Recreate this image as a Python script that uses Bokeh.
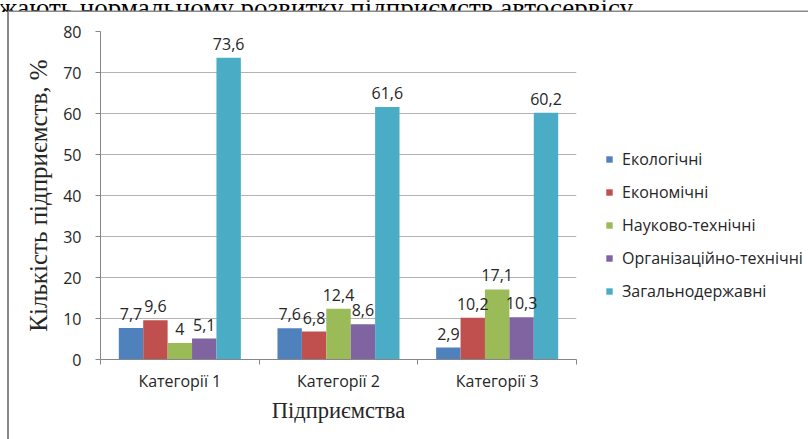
from bokeh.plotting import figure
from bokeh.layouts import column, row
from bokeh.models import (Range1d, FixedTicker, ColumnDataSource, LabelSet, Legend,
                          LegendItem, Div)
from bokeh.core.properties import value
from bokeh.embed import file_html
from bokeh.resources import INLINE

categories = ["Категорії 1", "Категорії 2", "Категорії 3"]
series_names = ["Екологічні", "Економічні", "Науково-технічні",
                "Організаційно-технічні", "Загальнодержавні"]
ekolohichni = [7.7, 7.6, 2.9]
ekonomichni = [9.6, 6.8, 10.2]
naukovo_tekhnichni = [4.0, 12.4, 17.1]
orhanizatsiino_tekhnichni = [5.1, 8.6, 10.3]
zahalnoderzhavni = [73.6, 61.6, 60.2]
y_ticks = [0, 10, 20, 30, 40, 50, 60, 70, 80]
colors = ["#4F81BD", "#C0504D", "#9BBB59", "#8064A2", "#4BACC6"]
top_text = "жають нормальному розвитку підприємств автосервісу."

all_series = [ekolohichni, ekonomichni, naukovo_tekhnichni,
              orhanizatsiino_tekhnichni, zahalnoderzhavni]

FONT = "Open Sans"
SERIF = "Liberation Serif"
TXT = "#262626"
AXC = "#868686"
FRAME = "#8A8A8A"

# ---- header strip: end of the document line above the chart + top frame edge ----
head = figure(width=808, height=12, output_backend="svg", toolbar_location=None,
              x_range=Range1d(0, 808), y_range=Range1d(12, 0),
              x_axis_location=None, y_axis_location=None, min_border=0)
head.outline_line_color = None
head.grid.visible = False
head.background_fill_color = "white"
head.border_fill_color = "white"
head.text(x=[-2], y=[7], text=[top_text], text_font=value(SERIF),
          text_font_size="27px", text_baseline="alphabetic", text_color="black")
head.quad(left=[7], right=[808], top=[10], bottom=[12], fill_color=FRAME, line_color=None)

# ---- left strip: left frame edge ----
side = Div(text="", width=9, height=427, margin=0, styles={
    "background": f"linear-gradient(to right, #ffffff 0px, #ffffff 7px, {FRAME} 7px, {FRAME} 9px)"})

# ---- main chart ----
p = figure(frame_width=476, frame_height=328, output_backend="svg", toolbar_location=None,
           x_range=Range1d(0, len(categories)), y_range=Range1d(0, 80),
           min_border_left=91, min_border_right=232, min_border_top=19,
           min_border_bottom=80)
p.outline_line_color = None
p.background_fill_color = "white"
p.border_fill_color = "white"

bar_w = 1 / 6.5
items = []
for i, (name, vals, col) in enumerate(zip(series_names, all_series, colors)):
    off = (i - 2) * bar_w
    xs = [k + 0.5 + off for k in range(len(categories))]
    labels = [f"{v:g}".replace(".", ",") for v in vals]
    src = ColumnDataSource(dict(x=xs, top=vals, label=labels))
    r = p.vbar(x="x", top="top", width=bar_w, bottom=0, source=src,
               fill_color=col, line_color=None)
    items.append(LegendItem(label=name, renderers=[r]))
    ls = LabelSet(x="x", y="top", text="label", source=src, text_align="center",
                  text_baseline="bottom", y_offset=8, text_font=value(FONT),
                  text_font_size="16px", text_color=TXT)
    p.add_layout(ls)

# x axis
p.xaxis.ticker = FixedTicker(ticks=[k + 0.5 for k in range(len(categories))],
                             minor_ticks=list(range(len(categories) + 1)))
p.xaxis.major_label_overrides = {k + 0.5: c for k, c in enumerate(categories)}
p.xaxis.major_tick_out = 0
p.xaxis.major_tick_in = 0
p.xaxis.minor_tick_out = 5
p.xaxis.minor_tick_in = 0
p.xaxis.minor_tick_line_color = AXC
p.xaxis.axis_line_color = AXC
p.xaxis.major_label_text_font = FONT
p.xaxis.major_label_text_font_size = "16px"
p.xaxis.major_label_text_color = TXT
p.xaxis.major_label_standoff = 5
p.xaxis.axis_label = "Підприємства"
p.xaxis.axis_label_text_font = SERIF
p.xaxis.axis_label_text_font_style = "normal"
p.xaxis.axis_label_text_font_size = "22.5px"
p.xaxis.axis_label_text_color = TXT
p.xaxis.axis_label_standoff = 3
p.xgrid.grid_line_color = None

# y axis
p.yaxis.ticker = FixedTicker(ticks=y_ticks)
p.yaxis.major_tick_out = 5
p.yaxis.major_tick_in = 0
p.yaxis.minor_tick_line_color = None
p.yaxis.major_tick_line_color = AXC
p.yaxis.axis_line_color = AXC
p.yaxis.major_label_text_font = FONT
p.yaxis.major_label_text_font_size = "16px"
p.yaxis.major_label_text_color = TXT
p.yaxis.major_label_standoff = 14
p.yaxis.axis_label = "Кількість підприємств, %"
p.yaxis.axis_label_text_font = SERIF
p.yaxis.axis_label_text_font_style = "normal"
p.yaxis.axis_label_text_font_size = "25px"
p.yaxis.axis_label_text_color = TXT
p.yaxis.axis_label_standoff = 8
p.ygrid.grid_line_color = "#B3B3B3"

legend = Legend(items=items, location=(29, 57), orientation="vertical",
                glyph_width=8, glyph_height=8, label_height=20, spacing=11,
                label_standoff=9, padding=0, margin=0,
                border_line_color=None, background_fill_alpha=0,
                label_text_font=FONT, label_text_font_size="16px",
                label_text_color=TXT)
p.add_layout(legend, "right")

layout = column(head, row(side, p, spacing=0), spacing=0)
open("out.html", "w").write(file_html(layout, INLINE))
